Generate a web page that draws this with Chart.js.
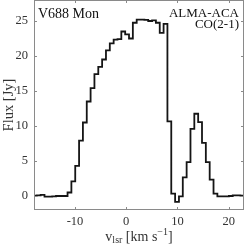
<!DOCTYPE html>
<html>
<head>
<meta charset="utf-8">
<script src="https://cdn.jsdelivr.net/npm/chart.js@4.4.1/dist/chart.umd.min.js"></script>
<style>
  html, body { margin: 0; padding: 0; background: #fff; }
</style>
</head>
<body>
<canvas id="spectrum" width="245" height="245"></canvas>
<script>
// Channel centres (km/s) and flux density (Jy)
const velocity = [
    -18.575, -17.825, -17.075, -16.325, -15.575, -14.825, -14.075, -13.325, -12.575, -11.825,
    -11.075, -10.325, -9.575, -8.825, -8.075, -7.325, -6.575, -5.825, -5.075, -4.325,
    -3.575, -2.825, -2.075, -1.325, -0.575, 0.175, 0.925, 1.675, 2.425, 3.175,
    3.925, 4.675, 5.425, 6.175, 6.925, 7.675,
    8.425, 9.175, 9.925, 10.675, 11.425, 12.175, 12.925, 13.675, 14.425, 15.175,
    15.925, 16.675, 17.425, 18.175, 18.925, 19.675, 20.425, 21.175, 21.925, 22.675, 23.425
];
const flux = [
    0.05, 0.05, 0.1, 0.15, -0.1, -0.1, -0.05, 0.0, 0.0, 0.0,
    0.5, 2.1, 4.3, 7.9, 10.5, 13.5, 15.4, 17.4, 18.45, 19.5,
    20.8, 21.8, 22.35, 22.4, 23.5, 23.1, 22.5, 24.75, 25.2, 25.2,
    25.15, 25.0, 25.1, 24.75, 23.3, 24.6,
    10.65, 0.35, -0.85, -0.05, 2.65, 4.85, 9.6, 11.75, 10.55, 7.6,
    4.85, 2.35, 0.35, -0.05, -0.05, -0.05, 0.0, 0.1, 0.1, 0.05, 0.05
];
const xTicks = [-10, 0, 10, 20];
const yTicks = [0, 5, 10, 15, 20, 25];
const sourceName = "V688 Mon";
const instrumentLines = ["ALMA-ACA", "CO(2-1)"];

const serif = '"Liberation Serif", "DejaVu Serif", serif';
const frameColor = "#8a8a8a";
const textColor = "#333";

// Box around the axes, inward tick marks on all four sides, labels
const framePlugin = {
    id: "frame",
    afterDraw(chart) {
        const { ctx, chartArea: a, scales } = chart;
        ctx.save();
        ctx.strokeStyle = frameColor;
        ctx.lineWidth = 1;
        ctx.strokeRect(a.left + 0.5, a.top + 0.5, a.right - a.left - 1, a.bottom - a.top - 1);

        const tl = 3;
        ctx.beginPath();
        xTicks.forEach(v => {
            const x = Math.round(scales.x.getPixelForValue(v)) + 0.5;
            ctx.moveTo(x, a.bottom); ctx.lineTo(x, a.bottom - tl);
            ctx.moveTo(x, a.top); ctx.lineTo(x, a.top + tl);
        });
        yTicks.forEach(v => {
            const y = Math.round(scales.y.getPixelForValue(v)) + 0.5;
            ctx.moveTo(a.left, y); ctx.lineTo(a.left + tl, y);
            ctx.moveTo(a.right, y); ctx.lineTo(a.right - tl, y);
        });
        ctx.stroke();

        // annotations
        ctx.fillStyle = "#111";
        ctx.textBaseline = "middle";
        ctx.textAlign = "left";
        ctx.font = "14px " + serif;
        ctx.fillText(sourceName, a.left + 4, 14);
        ctx.textAlign = "right";
        ctx.font = "13px " + serif;
        ctx.fillText(instrumentLines[0], a.right - 5, 13.5);
        ctx.fillText(instrumentLines[1], a.right - 5, 25);

        // x axis title with sub- and superscript
        const parts = [
            { t: "v", size: 14, dy: 0 },
            { t: "lsr", size: 10, dy: 3 },
            { t: " [km s", size: 14, dy: 0 },
            { t: "\u22121", size: 10, dy: -5 },
            { t: "]", size: 14, dy: 0 }
        ];
        let total = 0;
        parts.forEach(p => { ctx.font = p.size + "px " + serif; p.w = ctx.measureText(p.t).width; total += p.w; });
        let x = (a.left + a.right) / 2 - total / 2;
        const yBase = 237;
        ctx.fillStyle = textColor;
        ctx.textAlign = "left";
        parts.forEach(p => {
            ctx.font = p.size + "px " + serif;
            ctx.fillText(p.t, x, yBase + p.dy);
            x += p.w;
        });
        ctx.restore();
    }
};

function noPadding(s) {
    s.paddingTop = 0; s.paddingBottom = 0; s.paddingLeft = 0; s.paddingRight = 0;
}

new Chart(document.getElementById("spectrum"), {
    type: "line",
    data: {
        datasets: [{
            data: velocity.map((v, i) => ({ x: v, y: flux[i] })),
            borderColor: "#151515",
            borderWidth: 1.8,
            pointRadius: 0,
            stepped: "middle",
            fill: false
        }]
    },
    options: {
        responsive: false,
        animation: false,
        devicePixelRatio: 1,
        layout: { padding: { top: 0, right: 1, bottom: 0, left: 0 } },
        plugins: { legend: { display: false }, tooltip: { enabled: false } },
        scales: {
            x: {
                type: "linear",
                min: -18,
                max: 23,
                afterBuildTicks: s => { s.ticks = xTicks.map(v => ({ value: v })); },
                afterFit: s => { s.height = 35; noPadding(s); },
                grid: { display: false, drawTicks: false },
                border: { display: false },
                ticks: { font: { family: serif, size: 12.5 }, color: textColor, padding: 4, maxRotation: 0 },
                title: { display: false }
            },
            y: {
                min: -2,
                max: 28,
                afterBuildTicks: s => { s.ticks = yTicks.map(v => ({ value: v })); },
                afterFit: s => { s.width = 34; noPadding(s); },
                grid: { display: false, drawTicks: false },
                border: { display: false },
                ticks: { font: { family: serif, size: 12.5 }, color: textColor, padding: 6 },
                title: { display: true, text: "Flux [Jy]", font: { family: serif, size: 14.5 }, color: textColor, padding: 0 }
            }
        }
    },
    plugins: [framePlugin]
});
</script>
</body>
</html>
